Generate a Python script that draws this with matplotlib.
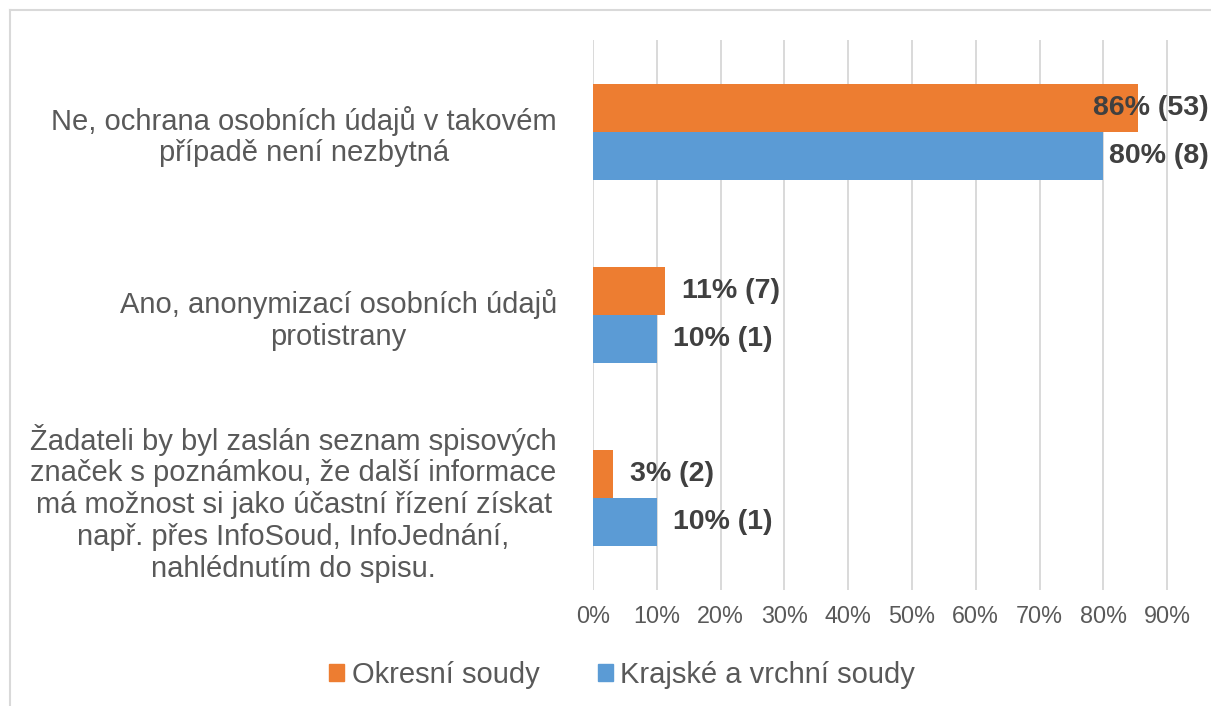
import matplotlib
matplotlib.use("Agg")
import matplotlib.pyplot as plt
from matplotlib.patches import Rectangle
from matplotlib.lines import Line2D

plt.rcParams['font.family'] = ['Liberation Sans', 'DejaVu Sans']

# data
categories = [
    "Ne, ochrana osobních údajů v takovém\npřípadě není nezbytná",
    "Ano, anonymizací osobních údajů\nprotistrany",
    "Žadateli by byl zaslán seznam spisových\nznaček s poznámkou, že další informace\n"
    "má možnost si jako účastní řízení získat\nnapř. přes InfoSoud, InfoJednání,\nnahlédnutím do spisu.",
]
okresni_pct = [85.5, 11.3, 3.2]
okresni_n = [53, 7, 2]
krajske_pct = [80.0, 10.0, 10.0]
krajske_n = [8, 1, 1]
series_names = ["Okresní soudy", "Krajské a vrchní soudy"]
ticks = [0, 10, 20, 30, 40, 50, 60, 70, 80, 90]

orange = "#ED7D31"
blue = "#5B9BD5"
grey_text = "#595959"
grid_col = "#D9D9D9"

W, H = 1211, 706
fig = plt.figure(figsize=(W / 100, H / 100), dpi=100)
ax = fig.add_axes([593 / W, 1 - 590 / H, 1 - 593 / W, 550 / H])

ypos = list(range(len(categories)))
bh = 0.262
ax.barh([y - bh / 2 for y in ypos], okresni_pct, height=bh, color=orange, zorder=2)
ax.barh([y + bh / 2 for y in ypos], krajske_pct, height=bh, color=blue, zorder=2)

ax.set_xlim(0, (W - 593) / 6.38)
ax.set_ylim(len(categories) - 0.5, -0.5)
ax.set_xticks(ticks)
ax.set_xticklabels([f"{t}%" for t in ticks], fontsize=16.8, color=grey_text)
ax.set_yticks(ypos)
ax.set_yticklabels(categories, fontsize=21, color=grey_text, multialignment="center", linespacing=1.17)
ax.tick_params(axis="x", length=0, pad=11)
ax.tick_params(axis="y", length=0, pad=26)
for s in ax.spines.values():
    s.set_visible(False)
for t in ticks:
    ax.axvline(t, color=grid_col, lw=1.4, zorder=1)

# data labels, pulled back if they run past the chart edge
limit_px = 1209
labels = []
for y, p, n in [(y - bh / 2, p, n) for y, p, n in zip(ypos, okresni_pct, okresni_n)] + \
               [(y + bh / 2, p, n) for y, p, n in zip(ypos, krajske_pct, krajske_n)]:
    a = ax.annotate(f"{p:.0f}% ({n})", xy=(p, y), xytext=(12, 0), textcoords="offset points",
                    ha="left", va="center", fontsize=20.5, fontweight="bold", color="#404040",
                    annotation_clip=False, zorder=3)
    labels.append(a)
fig.canvas.draw()
r = fig.canvas.get_renderer()
for a in labels:
    bb = a.get_window_extent(r)
    if bb.x1 > limit_px:
        a.xyann = (12 - (bb.x1 - limit_px) * 72 / 100, 0)

# legend
handles = [Rectangle((0, 0), 1, 1, color=orange), Rectangle((0, 0), 1, 1, color=blue)]
fig.legend(handles, series_names, loc="center", bbox_to_anchor=(622 / W, 1 - 675 / H),
           ncol=2, frameon=False, fontsize=21, labelcolor=grey_text,
           handlelength=0.52, handleheight=0.52, handletextpad=0.25, columnspacing=2.0,
           borderpad=0)

# chart border (cropped on right and bottom)
fig.add_artist(Line2D([10 / W, 10 / W], [0, 1 - 10 / H], color=grid_col, lw=1.5))
fig.add_artist(Line2D([10 / W, 1], [1 - 10 / H, 1 - 10 / H], color=grid_col, lw=1.5))

fig.savefig("out.png", dpi=100)
